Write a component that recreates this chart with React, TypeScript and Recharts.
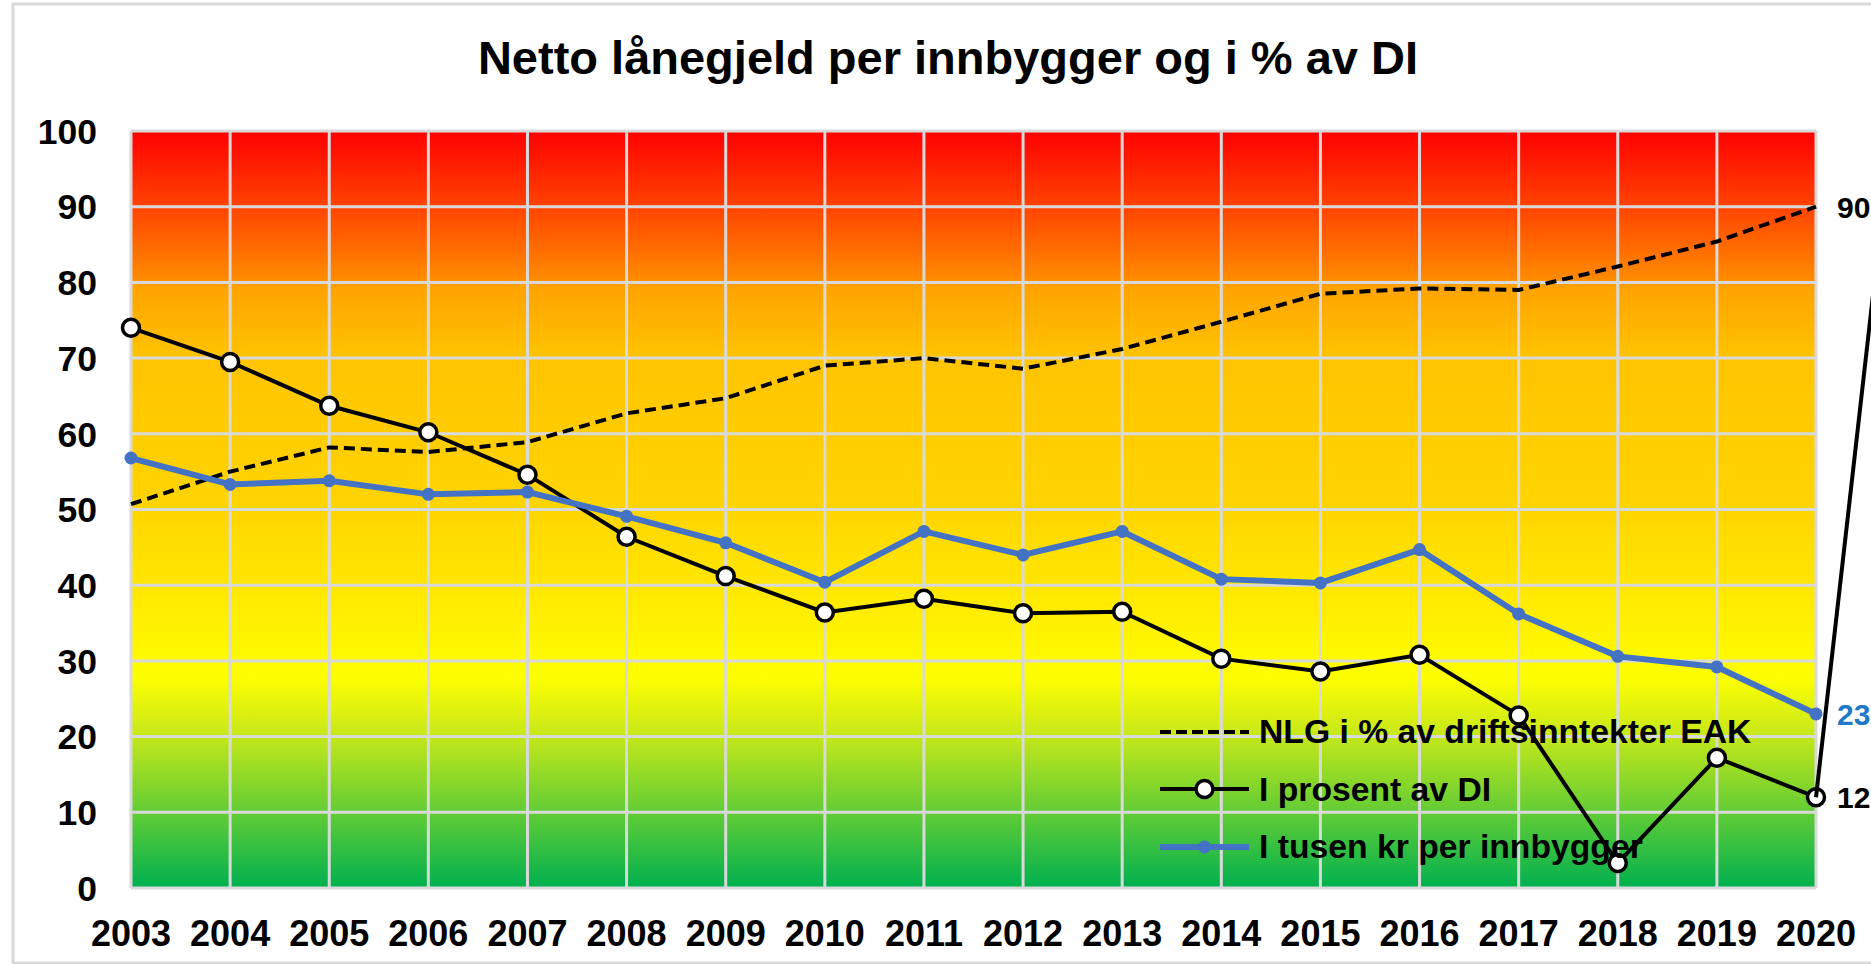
import React from 'react';
import { LineChart, Line, XAxis, YAxis, CartesianGrid, Legend, LabelList } from 'recharts';

const years = ['2003', '2004', '2005', '2006', '2007', '2008', '2009', '2010', '2011', '2012', '2013', '2014', '2015', '2016', '2017', '2018', '2019', '2020'];
const nlgShareOfRevenue = [50.7, 55.0, 58.2, 57.6, 58.9, 62.7, 64.7, 69.0, 70.0, 68.6, 71.2, 74.8, 78.5, 79.2, 79.0, 82.1, 85.4, 90.0];
const percentOfDI = [74.0, 69.5, 63.7, 60.2, 54.6, 46.4, 41.2, 36.4, 38.2, 36.3, 36.5, 30.3, 28.6, 30.8, 22.8, 3.3, 17.2, 12.0];
const thousandKrPerCapita = [56.8, 53.3, 53.8, 52.0, 52.3, 49.1, 45.6, 40.4, 47.1, 44.0, 47.1, 40.8, 40.3, 44.7, 36.2, 30.6, 29.2, 23.0];
const yTicks = [0, 10, 20, 30, 40, 50, 60, 70, 80, 90, 100];

const seriesNames = {
  nlg: 'NLG i % av driftsinntekter EAK',
  pct: 'I prosent av DI',
  kr: 'I tusen kr per innbygger',
};
const legendOrder = ['nlg', 'pct', 'kr'];

const data = years.map((year, i) => ({
  year,
  nlg: nlgShareOfRevenue[i],
  pct: percentOfDI[i],
  kr: thousandKrPerCapita[i],
}));

const FONT = '"Liberation Sans", Arial, Helvetica, sans-serif';
const W = 1871;
const H = 964;
const BLUE = '#4472C4';

function makeEndLabel(color: string, leader: boolean) {
  return (props: any) => {
    const { x, y, value, index } = props;
    if (index !== years.length - 1) return null;
    return (
      <g>
        {leader && (
          <line x1={x} y1={y} x2={x + 70} y2={y - 617} stroke="#000" strokeWidth={4} />
        )}
        <text
          x={x + 21}
          y={y}
          dy="0.36em"
          fill={color}
          fontSize={30}
          fontWeight="bold"
          fontFamily={FONT}
        >
          {Math.round(value)}
        </text>
      </g>
    );
  };
}

function LegendIcon({ k }: { k: string }) {
  if (k === 'nlg') {
    return (
      <svg width={89} height={24} style={{ display: 'block', flex: 'none' }}>
        <line x1={0} y1={12} x2={89} y2={12} stroke="#000" strokeWidth={4} strokeDasharray="11 5" />
      </svg>
    );
  }
  if (k === 'pct') {
    return (
      <svg width={89} height={24} style={{ display: 'block', flex: 'none' }}>
        <line x1={0} y1={12} x2={89} y2={12} stroke="#000" strokeWidth={4} />
        <circle cx={44.5} cy={12} r={8.5} fill="#fff" stroke="#000" strokeWidth={3.5} />
      </svg>
    );
  }
  return (
    <svg width={89} height={24} style={{ display: 'block', flex: 'none' }}>
      <line x1={0} y1={12} x2={89} y2={12} stroke={BLUE} strokeWidth={6} strokeLinecap="round" />
      <circle cx={44.5} cy={12} r={6.5} fill={BLUE} />
    </svg>
  );
}

function renderLegend(props: any) {
  const payload = [...(props.payload || [])].sort(
    (a: any, b: any) => legendOrder.indexOf(a.dataKey) - legendOrder.indexOf(b.dataKey)
  );
  return (
    <div style={{ fontFamily: FONT }}>
      {payload.map((entry: any) => (
        <div
          key={entry.dataKey}
          style={{ display: 'flex', alignItems: 'center', height: 57.5, whiteSpace: 'nowrap' }}
        >
          <LegendIcon k={entry.dataKey} />
          <span style={{ marginLeft: 10, fontSize: 33.7, fontWeight: 'bold', color: '#000' }}>
            {entry.value}
          </span>
        </div>
      ))}
    </div>
  );
}

const YTick = (props: any) => {
  const { x, y, payload } = props;
  return (
    <text x={x} y={y} dy="0.36em" textAnchor="end" fontSize={35.5} fontWeight="bold" fontFamily={FONT} fill="#000">
      {payload.value}
    </text>
  );
};

const XTick = (props: any) => {
  const { x, y, payload } = props;
  return (
    <text x={x} y={y} dy="0.36em" textAnchor="middle" fontSize={36} fontWeight="bold" fontFamily={FONT} fill="#000">
      {payload.value}
    </text>
  );
};

export default function App() {
  return (
    <div style={{ position: 'absolute', left: 0, top: 0, width: W, height: H, overflow: 'hidden', background: '#fff' }}>
      <svg width={W} height={H} style={{ position: 'absolute', left: 0, top: 0 }}>
        <rect x={13} y={4} width={W} height={959} fill="#fff" stroke="#d9d9d9" strokeWidth={3} />
        <text
          x={948}
          y={57}
          dy="0.36em"
          textAnchor="middle"
          fontSize={47}
          fontWeight="bold"
          fontFamily={FONT}
          fill="#000"
        >
          Netto lånegjeld per innbygger og i % av DI
        </text>
      </svg>
      <div style={{ position: 'absolute', left: 0, top: 0 }}>
        <LineChart
          width={W}
          height={H}
          data={data}
          margin={{ top: 131, right: 55, bottom: 0, left: 0 }}
        >
          <defs>
            <linearGradient id="bgGrad" x1="0" y1="0" x2="0" y2="1">
              <stop offset="0" stopColor="#FF0000" />
              <stop offset="0.1" stopColor="#FF4300" />
              <stop offset="0.195" stopColor="#FF8A00" />
              <stop offset="0.205" stopColor="#FFA200" />
              <stop offset="0.3" stopColor="#FFC400" />
              <stop offset="0.5" stopColor="#FFD500" />
              <stop offset="0.62" stopColor="#FFEA00" />
              <stop offset="0.72" stopColor="#FFFF00" />
              <stop offset="0.79" stopColor="#CDEA18" />
              <stop offset="0.9" stopColor="#62CC35" />
              <stop offset="1" stopColor="#00B050" />
            </linearGradient>
          </defs>
          <CartesianGrid
            fill="url(#bgGrad)"
            fillOpacity={1}
            stroke="#d9d9d9"
            strokeWidth={3}
          />
          <XAxis
            dataKey="year"
            height={76}
            axisLine={false}
            tickLine={false}
            tickSize={0}
            tickMargin={45}
            interval={0}
            tick={<XTick />}
          />
          <YAxis
            domain={[0, 100]}
            ticks={yTicks}
            width={131}
            axisLine={false}
            tickLine={false}
            tickSize={0}
            tickMargin={34}
            interval={0}
            tick={<YTick />}
          />
          <Legend
            layout="vertical"
            align="center"
            verticalAlign="middle"
            content={renderLegend}
            wrapperStyle={{ left: 1160, top: 703, width: 'auto', height: 'auto' }}
          />
          <Line
            type="linear"
            dataKey="nlg"
            name={seriesNames.nlg}
            stroke="#000"
            strokeWidth={4}
            strokeDasharray="11 6"
            dot={false}
            activeDot={false}
            isAnimationActive={false}
          >
            <LabelList dataKey="nlg" content={makeEndLabel('#000', false)} />
          </Line>
          <Line
            type="linear"
            dataKey="pct"
            name={seriesNames.pct}
            stroke="#000"
            strokeWidth={4}
            dot={{ r: 8.5, fill: '#fff', stroke: '#000', strokeWidth: 3.5 }}
            activeDot={false}
            isAnimationActive={false}
          >
            <LabelList dataKey="pct" content={makeEndLabel('#000', true)} />
          </Line>
          <Line
            type="linear"
            dataKey="kr"
            name={seriesNames.kr}
            stroke={BLUE}
            strokeWidth={6}
            dot={{ r: 6.5, fill: BLUE, stroke: BLUE, strokeWidth: 0 }}
            activeDot={false}
            isAnimationActive={false}
          >
            <LabelList dataKey="kr" content={makeEndLabel('#2079C7', false)} />
          </Line>
        </LineChart>
      </div>
    </div>
  );
}
